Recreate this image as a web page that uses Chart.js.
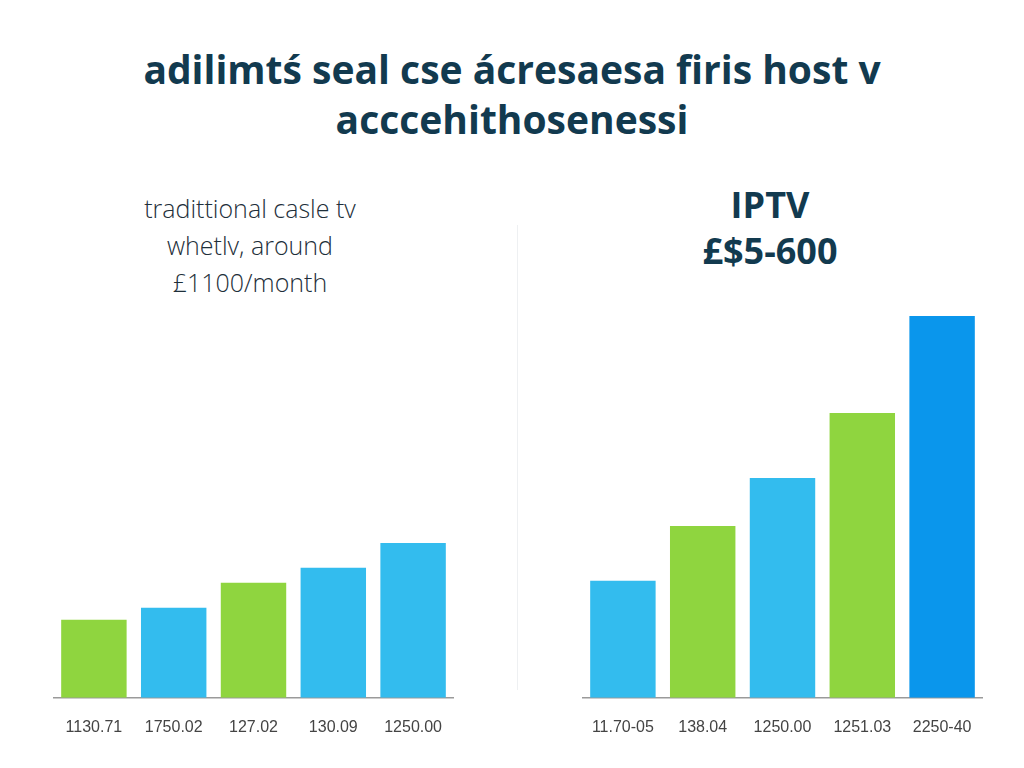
<!DOCTYPE html>
<html>
<head>
<meta charset="utf-8">
<script src="https://cdn.jsdelivr.net/npm/chart.js@4"></script>
<style>
  body { margin: 0; width: 1024px; height: 768px; background: #fff; font-family: "Open Sans", sans-serif; position: relative; overflow: hidden; }
  .t { position: absolute; text-align: center; color: #123a4f; }
  #title { left: 0; width: 1024px; top: 44px; font-size: 39px; font-weight: 700; line-height: 50px; }
  #lt { left: 40px; width: 420px; top: 190px; font-size: 25px; font-weight: 300; line-height: 37px; color: #1e2f3a; }
  #rt { left: 560px; width: 420px; top: 182px; font-size: 36px; font-weight: 700; line-height: 46px; }
  #div { position: absolute; left: 517px; top: 225px; width: 1px; height: 465px; background: #eef0f2; }
  .box { position: absolute; top: 290px; width: 427px; height: 467px; }
</style>
</head>
<body>
<div id="title" class="t">adilimtś seal cse ácresaesa firis host v<br>acccehithosenessi</div>
<div id="lt" class="t">tradittional casle tv<br>whetlv, around<br>£1100/month</div>
<div id="rt" class="t">IPTV<br>£$5-600</div>
<div id="div"></div>
<div class="box" style="left:40px"><canvas id="left"></canvas></div>
<div class="box" style="left:569px"><canvas id="right"></canvas></div>
<script>
const leftLabels = ["1130.71", "1750.02", "127.02", "130.09", "1250.00"];
const leftValues = [78, 90, 115, 130, 155];
const rightLabels = ["11.70-05", "138.04", "1250.00", "1251.03", "2250-40"];
const rightValues = [117, 172, 220, 285, 382];

const green = "#8fd53f";
const blue = "#33bcee";
const darkBlue = "#0a96ec";
const leftColors = [green, blue, green, blue, blue];
const rightColors = [blue, green, blue, green, darkBlue];

const makeChart = (id, labels, values, colors) => new Chart(document.getElementById(id), {
    type: "bar",
    data: { labels: labels, datasets: [{ data: values, backgroundColor: colors, barPercentage: 0.82, categoryPercentage: 1 }] },
    options: {
        responsive: true,
        maintainAspectRatio: false,
        animation: false,
        layout: { padding: { left: 14, right: 14, top: 0, bottom: 8 } },
        plugins: { legend: { display: false }, tooltip: { enabled: false } },
        scales: {
            y: { display: false, min: 0, max: 408 },
            x: {
                grid: { display: false },
                border: { color: "#9a9a9a", width: 1.5 },
                ticks: { color: "#444", font: { family: "Liberation Sans", size: 16 }, padding: 12 }
            }
        }
    }
});

makeChart("left", leftLabels, leftValues, leftColors);
makeChart("right", rightLabels, rightValues, rightColors);
</script>
</body>
</html>
